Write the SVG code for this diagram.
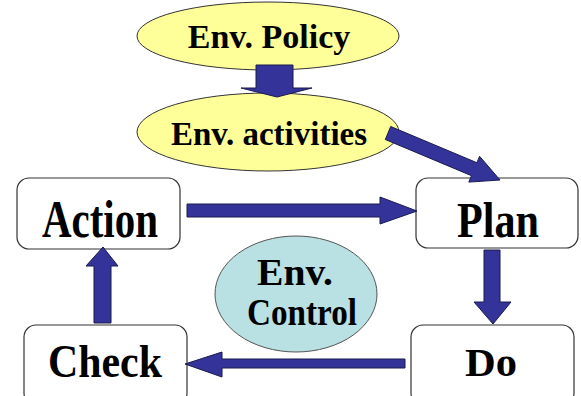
<svg xmlns="http://www.w3.org/2000/svg" width="581" height="396" viewBox="0 0 581 396">
<style>
.box{fill:#ffffff;stroke:#333333;stroke-width:1.2}
.yel{fill:#ffff99;stroke:#333333;stroke-width:1}
.blu{fill:#b9e0e2;stroke:#555555;stroke-width:1}
.arr{fill:#333399;stroke:#1a1a4d;stroke-width:1}
</style>
<rect width="581" height="396" fill="#ffffff"/>
<g font-family="Liberation Serif, DejaVu Serif, serif" font-weight="bold" fill="#000000" text-anchor="middle">
<g id="policy">
<ellipse class="yel" cx="268" cy="36" rx="131" ry="34"/>
<text x="269" y="48" font-size="34" font-family="Liberation Serif, DejaVu Serif, serif">Env. Policy</text>
</g>
<g id="activities">
<ellipse class="yel" cx="268" cy="132" rx="131" ry="39"/>
<text x="269" y="145" font-size="33" font-family="Liberation Serif, DejaVu Serif, serif">Env. activities</text>
</g>
<g id="action">
<rect class="box" x="17" y="178" width="163" height="71" rx="12"/>
<text x="100" y="237" font-size="52" textLength="116" lengthAdjust="spacingAndGlyphs" font-family="Liberation Serif, DejaVu Serif, serif">Action</text>
</g>
<g id="plan">
<rect class="box" x="416" y="178" width="162" height="70" rx="12"/>
<text x="498" y="237" font-size="50" textLength="82" lengthAdjust="spacingAndGlyphs" font-family="Liberation Serif, DejaVu Serif, serif">Plan</text>
</g>
<g id="check">
<rect class="box" x="24" y="325" width="163" height="80" rx="12"/>
<text x="105" y="377" font-size="46" textLength="114" lengthAdjust="spacingAndGlyphs" font-family="Liberation Serif, DejaVu Serif, serif">Check</text>
</g>
<g id="do">
<rect class="box" x="411" y="325" width="163" height="80" rx="12"/>
<text x="491" y="376" font-size="40" textLength="52" lengthAdjust="spacingAndGlyphs" font-family="Liberation Serif, DejaVu Serif, serif">Do</text>
</g>
<g id="control">
<ellipse class="blu" cx="296" cy="294" rx="81" ry="58"/>
<text x="295" y="285" font-size="37" textLength="76" lengthAdjust="spacingAndGlyphs" font-family="Liberation Serif, DejaVu Serif, serif">Env.</text>
<text x="302" y="325" font-size="37" textLength="110" lengthAdjust="spacingAndGlyphs" font-family="Liberation Serif, DejaVu Serif, serif">Control</text>
</g>
</g>
<g id="connectors">
<polygon class="arr" points="256,65 293,65 293,88 312,88 277,97 241,88 256,88"/>
<polygon class="arr" points="390.7,126.5 476.9,162.7 479.6,156.3 500,180 468.8,182.1 471.5,175.7 385.3,139.5"/>
<polygon class="arr" points="187,204 380,204 380,197 417,211 380,224 380,217 187,217"/>
<polygon class="arr" points="484,250 500,250 500,302 511,302 493,324 474,302 484,302"/>
<polygon class="arr" points="405,359 222,359 222,352 185,364 222,377 222,368 405,368"/>
<polygon class="arr" points="94,323 94,266 86,266 103,247 118,266 111,266 111,323"/>
</g>
</svg>
